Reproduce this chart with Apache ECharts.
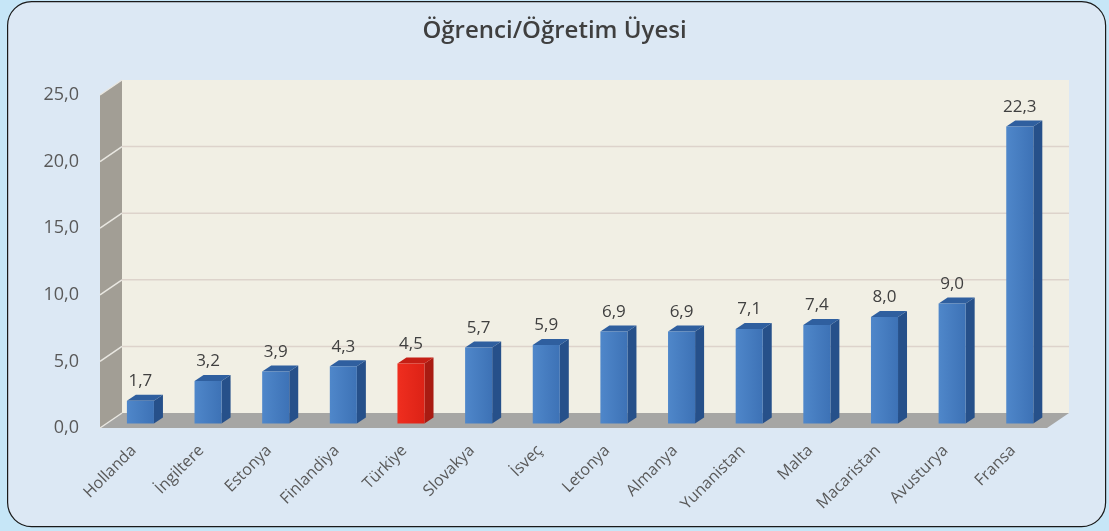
<!DOCTYPE html>
<html>
<head>
<meta charset="utf-8">
<script src="https://cdn.jsdelivr.net/npm/echarts@6/dist/echarts.min.js"></script>
<style>
  html, body { margin: 0; padding: 0; background: #c9e7f7; }
  #main { width: 1109px; height: 531px; }
</style>
</head>
<body>
<div id="main"></div>
<script>
// veriler
var countries = ['Hollanda', 'İngiltere', 'Estonya', 'Finlandiya', 'Türkiye', 'Slovakya', 'İsveç',
  'Letonya', 'Almanya', 'Yunanistan', 'Malta', 'Macaristan', 'Avusturya', 'Fransa'];
var ratios = [1.7, 3.2, 3.9, 4.3, 4.5, 5.7, 5.9, 6.9, 6.9, 7.1, 7.4, 8.0, 9.0, 22.3];
var highlight = 'Türkiye';
var yTicks = [0, 5, 10, 15, 20, 25];

// 3B görünüm için derinlik
var DX = 22, DY = -15;      // duvar derinliği
var BT = 0.3;               // barların derinlikteki yeri
var BDX = 9, BDY = -6;      // barın kendi derinliği

var font = '"Open Sans", Lato, sans-serif';

function fmt(v) {
  return v.toFixed(1).replace('.', ',');
}

// arka duvar, sol duvar, zemin ve ızgara çizgileri
function renderWalls(params, api) {
  var cs = params.coordSys;
  var x0 = cs.x, x1 = cs.x + cs.width;
  var y0 = api.coord([0, 0])[1];
  var yTop = api.coord([0, yTicks[yTicks.length - 1]])[1];
  var children = [];
  // arka duvar
  children.push({
    type: 'rect',
    shape: { x: x0 + DX, y: yTop + DY, width: x1 - x0, height: y0 - yTop },
    style: { fill: '#f1efe4' }
  });
  // sol duvar
  children.push({
    type: 'polygon',
    shape: { points: [[x0, y0], [x0, yTop], [x0 + DX, yTop + DY], [x0 + DX, y0 + DY]] },
    style: { fill: '#a29e95' }
  });
  // zemin
  children.push({
    type: 'polygon',
    shape: { points: [[x0, y0], [x1, y0], [x1 + DX, y0 + DY], [x0 + DX, y0 + DY]] },
    style: { fill: '#a6a6a4' }
  });
  // ızgara
  for (var i = 1; i < yTicks.length; i++) {
    var y = api.coord([0, yTicks[i]])[1];
    if (i < yTicks.length - 1) {
      children.push({
        type: 'line',
        shape: { x1: x0 + DX, y1: y + DY, x2: x1 + DX, y2: y + DY },
        style: { stroke: '#ddd3cb', lineWidth: 1.5 }
      });
    }
    children.push({
      type: 'line',
      shape: { x1: x0, y1: y, x2: x0 + DX, y2: y + DY },
      style: { stroke: '#e9e7e1', lineWidth: 1.5 }
    });
  }
  children.push({
    type: 'line',
    shape: { x1: x0, y1: y0, x2: x0 + DX, y2: y0 + DY },
    style: { stroke: '#e9e7e1', lineWidth: 1.5 }
  });
  return { type: 'group', children: children };
}

function renderBar(params, api) {
  var idx = api.value(0), val = api.value(1);
  var base = api.coord([idx, 0]);
  var top = api.coord([idx, val]);
  var bw = api.size([1, 0])[0] * 0.4;
  var red = countries[idx] === highlight;
  var x0 = base[0] - bw / 2 + DX * BT, x1 = x0 + bw;
  var yb = base[1] + DY * BT, yt = top[1] + DY * BT;
  var front = red
    ? new echarts.graphic.LinearGradient(0, 0, 1, 0, [{ offset: 0, color: '#ef2e1f' }, { offset: 1, color: '#dc2216' }])
    : new echarts.graphic.LinearGradient(0, 0, 1, 0, [{ offset: 0, color: '#4f87ca' }, { offset: 1, color: '#3d72b6' }]);
  var side = red ? '#a91b12' : '#26508a';
  var topc = red ? '#c51f15' : '#2f5f9f';
  return {
    type: 'group',
    children: [
      {
        type: 'polygon',
        shape: { points: [[x1, yb], [x1, yt], [x1 + BDX, yt + BDY], [x1 + BDX, yb + BDY]] },
        style: { fill: side }
      },
      {
        type: 'polygon',
        shape: { points: [[x0, yt], [x1, yt], [x1 + BDX, yt + BDY], [x0 + BDX, yt + BDY]] },
        style: { fill: topc }
      },
      {
        type: 'rect',
        shape: { x: x0, y: yt, width: bw, height: yb - yt },
        style: { fill: front }
      },
      {
        type: 'text',
        x: (x0 + x1) / 2,
        y: yt + BDY - 5,
        style: {
          text: fmt(val), fill: '#404040', font: '17px ' + font,
          align: 'center', verticalAlign: 'bottom'
        }
      }
    ]
  };
}

var chart = echarts.init(document.getElementById('main'));

var option = {
  backgroundColor: '#c6e6f7',
  animation: false,
  graphic: [{
    type: 'rect',
    left: 7, top: 1,
    shape: { width: 1098, height: 525, r: 24 },
    style: { fill: '#dce8f4', stroke: '#1a1a1a', lineWidth: 1.2 },
    z: -10
  }],
  title: {
    text: 'Öğrenci/Öğretim Üyesi',
    left: 'center', top: 14,
    textStyle: { color: '#3f3f3f', fontSize: 24, fontWeight: 600, fontFamily: font }
  },
  grid: { left: 100, right: 62, top: 95, bottom: 103 },
  xAxis: {
    type: 'category',
    data: countries,
    axisLine: { show: false },
    axisTick: { show: false },
    axisLabel: {
      rotate: 45, margin: 20, interval: 0,
      color: '#595959', fontSize: 16, fontFamily: font
    }
  },
  yAxis: {
    type: 'value',
    min: 0, max: 25, interval: 5,
    axisLine: { show: false },
    axisTick: { show: false },
    splitLine: { show: false },
    axisLabel: {
      margin: 21, color: '#595959', fontSize: 18, fontFamily: font,
      formatter: function (v) { return fmt(v); }
    }
  },
  series: [
    {
      type: 'custom',
      renderItem: renderWalls,
      data: [[0, 0]],
      silent: true,
      z: 1
    },
    {
      type: 'custom',
      renderItem: renderBar,
      data: ratios.map(function (v, i) { return [i, v]; }),
      encode: { x: 0, y: 1 },
      z: 2
    }
  ]
};

chart.setOption(option);
</script>
</body>
</html>
